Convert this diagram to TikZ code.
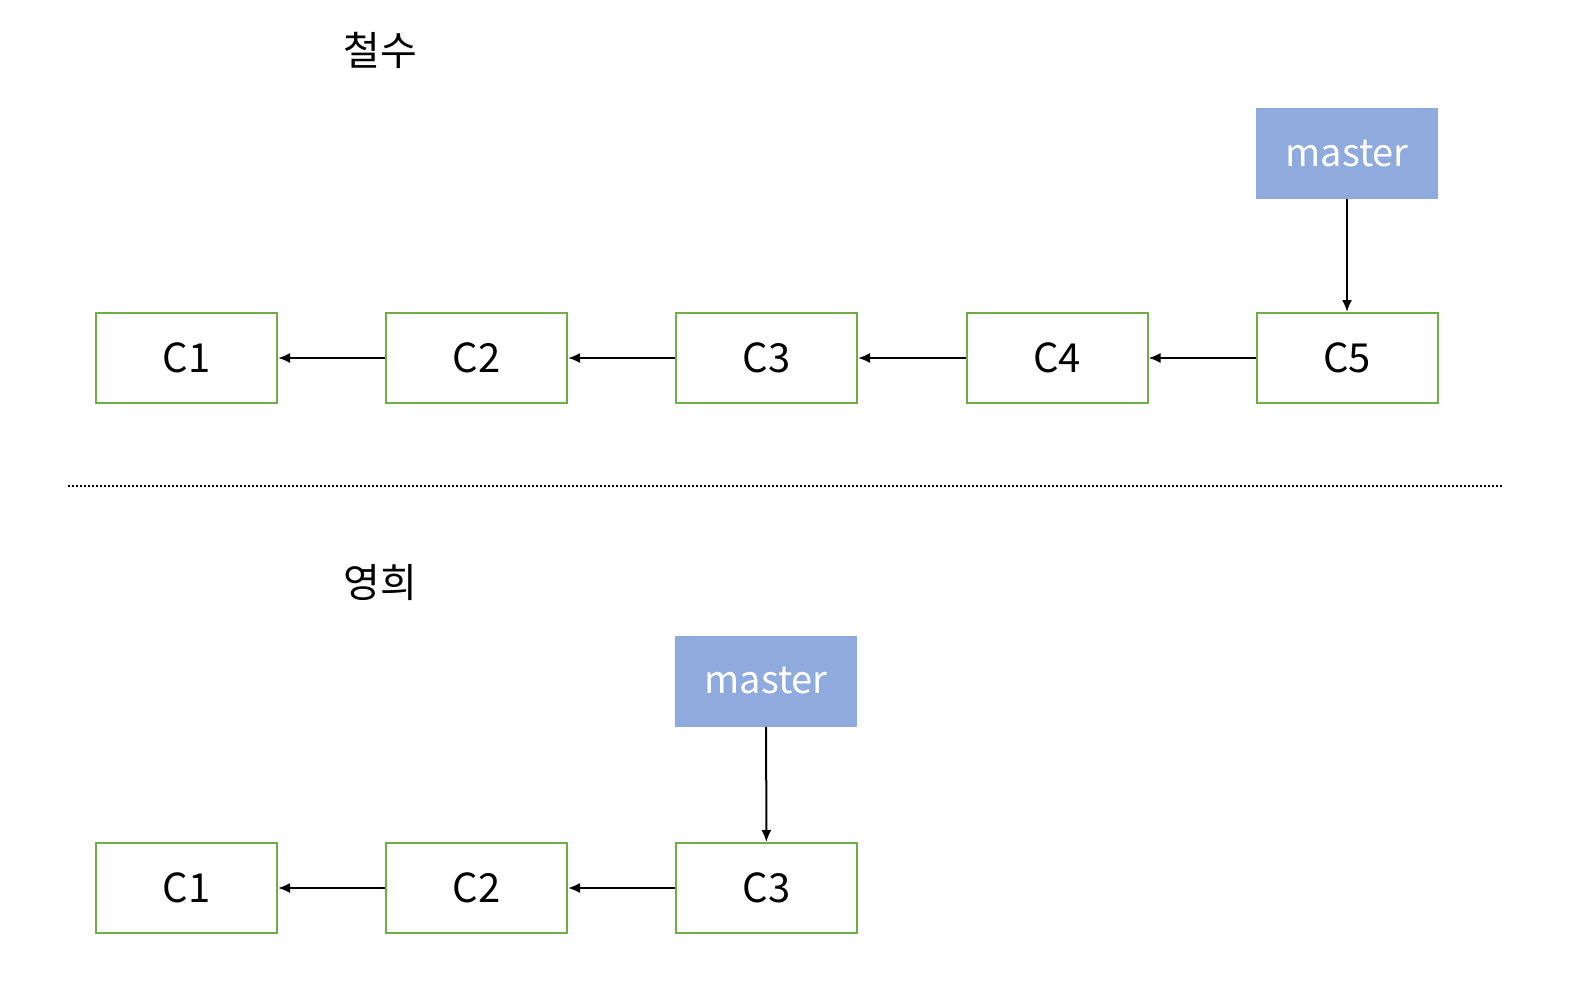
\documentclass[tikz,border=0pt]{standalone}
\usepackage{fontspec}
\setmainfont{Noto Sans CJK KR}
\usetikzlibrary{arrows.meta}
\definecolor{commitgreen}{HTML}{70AD47}
\definecolor{branchblue}{HTML}{8FAADC}
\tikzset{
  commit/.style={draw=commitgreen, line width=1pt, fill=white, minimum width=90.5pt, minimum height=45pt, inner sep=0pt, font=\fontsize{20}{24}\selectfont},
  branch/.style={fill=branchblue, text=white, minimum width=91pt, minimum height=45.5pt, inner sep=0pt, font=\fontsize{19}{23}\selectfont},
  parent/.style={line width=1pt, -{Latex[length=6pt,width=5pt]}},
  owner/.style={font=\fontsize{20}{24}\selectfont}
}
\begin{document}
\begin{tikzpicture}[x=0.5pt,y=-0.5pt]
  \useasboundingbox (0,0) rectangle (1590,1006);
  % top repository
  \node[owner] (top) at (380,50) {철수};
  \node[commit] (a1) at (186.5,358) {C1};
  \node[commit] (a2) at (476.5,358) {C2};
  \node[commit] (a3) at (766.5,358) {C3};
  \node[commit] (a4) at (1057,358) {C4};
  \node[commit] (a5) at (1347,358) {C5};
  \node[branch] (amaster) at (1347,153.5) {master};
  \draw[parent] (a2) -- (a1);
  \draw[parent] (a3) -- (a2);
  \draw[parent] (a4) -- (a3);
  \draw[parent] (a5) -- (a4);
  \draw[parent] (amaster) -- (a5);
  % separator
  \coordinate (sepl) at (68,486);
  \coordinate (sepr) at (1502,486);
  \draw[line width=1pt, dash pattern=on 1pt off 1pt] (sepl) -- (sepr);
  % bottom repository
  \node[owner] (bottom) at (380,583) {영희};
  \node[commit] (b1) at (186.5,888) {C1};
  \node[commit] (b2) at (476.5,888) {C2};
  \node[commit] (b3) at (766.5,888) {C3};
  \node[branch] (bmaster) at (766,681) {master};
  \draw[parent] (b2) -- (b1);
  \draw[parent] (b3) -- (b2);
  \draw[parent] (bmaster) -- (b3);
\end{tikzpicture}
\end{document}
